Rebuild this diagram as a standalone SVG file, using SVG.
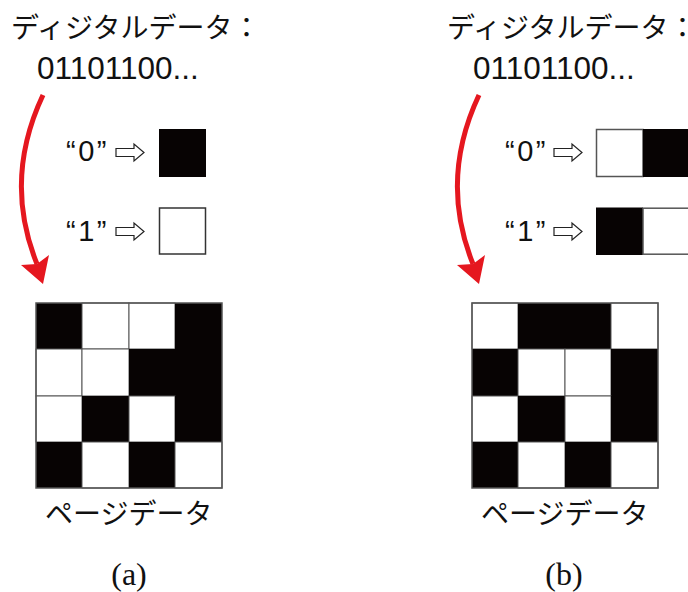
<svg xmlns="http://www.w3.org/2000/svg" width="688" height="592" viewBox="0 0 688 592">
  <style>
    .jp { font-family: "Noto Sans CJK JP", "Noto Sans", sans-serif; font-size: 28px; fill: #111; }
    .num { font-family: "Liberation Sans", Arial, sans-serif; font-size: 31.5px; fill: #111; }
    .lg { font-family: "Liberation Sans", Arial, sans-serif; font-size: 29px; fill: #111; letter-spacing: 2.5px; }
    .cap { font-family: "Liberation Serif", "Times New Roman", serif; font-size: 32px; fill: #111; text-anchor: middle; }
    .b { fill: #070303; stroke: none; }
    .w { fill: #ffffff; stroke: #555; stroke-width: 1; }
    .frame { fill: none; stroke: #555; stroke-width: 1.5; }
    .open { fill: #fff; stroke: #222; stroke-width: 1.2; stroke-linejoin: miter; }
    .red { fill: none; stroke: #e5171f; stroke-width: 5; }
    .redhead { fill: #e5171f; }
  </style>
  <defs>
    <polygon id="openArrow" class="open" points="0,-4 18,-4 18,-8.5 28,0 18,8.5 18,4 0,4"/>
  </defs>
  <rect width="688" height="592" fill="#fff"/>

  <!-- Panel (a) -->
  <g id="a-title">
    <text class="jp" x="11" y="38">ディジタルデータ：</text>
    <text class="num" x="37" y="79">01101100...</text>
  </g>
  <g id="a-legend0">
    <text class="lg" x="66" y="161">“0”</text>
    <use href="#openArrow" x="116" y="152.5"/>
    <rect class="b" x="159" y="129" width="47" height="48"/>
  </g>
  <g id="a-legend1">
    <text class="lg" x="66" y="241">“1”</text>
    <use href="#openArrow" x="116" y="231.5"/>
    <rect x="159.5" y="208" width="46" height="46" fill="#fff" stroke="#333" stroke-width="1.5"/>
  </g>
  <g id="a-grid">
    <rect class="b" x="36" y="303" width="46" height="46"/>
    <rect class="w" x="82" y="303" width="47" height="46"/>
    <rect class="w" x="129" y="303" width="46" height="46"/>
    <rect class="b" x="175" y="303" width="47" height="46"/>
    <rect class="w" x="36" y="349" width="46" height="47"/>
    <rect class="w" x="82" y="349" width="47" height="47"/>
    <rect class="b" x="129" y="349" width="46" height="47"/>
    <rect class="b" x="175" y="349" width="47" height="47"/>
    <rect class="w" x="36" y="396" width="46" height="46"/>
    <rect class="b" x="82" y="396" width="47" height="46"/>
    <rect class="w" x="129" y="396" width="46" height="46"/>
    <rect class="b" x="175" y="396" width="47" height="46"/>
    <rect class="b" x="36" y="442" width="46" height="46"/>
    <rect class="w" x="82" y="442" width="47" height="46"/>
    <rect class="b" x="129" y="442" width="46" height="46"/>
    <rect class="w" x="175" y="442" width="47" height="46"/>
    <rect class="frame" x="36" y="303" width="186" height="185"/>
  </g>
  <g id="a-label">
    <text class="jp" x="45" y="524">ページデータ</text>
    <text class="cap" x="129" y="585">(a)</text>
  </g>

  <!-- Panel (b) -->
  <g id="b-title">
    <text class="jp" x="447" y="38">ディジタルデータ：</text>
    <text class="num" x="473" y="79">01101100...</text>
  </g>
  <g id="b-legend0">
    <text class="lg" x="505" y="161">“0”</text>
    <use href="#openArrow" x="554" y="152.5"/>
    <rect x="596.5" y="129.5" width="46.5" height="47" fill="#fff" stroke="#555" stroke-width="1.5"/>
    <rect class="b" x="643" y="129" width="46" height="48"/>
  </g>
  <g id="b-legend1">
    <text class="lg" x="505" y="241">“1”</text>
    <use href="#openArrow" x="554" y="231.5"/>
    <rect class="b" x="596" y="207.5" width="47" height="47.5"/>
    <rect x="643" y="208.2" width="46" height="46" fill="#fff" stroke="#555" stroke-width="1.5"/>
  </g>
  <g id="b-grid">
    <rect class="w" x="472" y="303" width="46" height="46"/>
    <rect class="b" x="518" y="303" width="47" height="46"/>
    <rect class="b" x="565" y="303" width="46" height="46"/>
    <rect class="w" x="611" y="303" width="47" height="46"/>
    <rect class="b" x="472" y="349" width="46" height="47"/>
    <rect class="w" x="518" y="349" width="47" height="47"/>
    <rect class="w" x="565" y="349" width="46" height="47"/>
    <rect class="b" x="611" y="349" width="47" height="47"/>
    <rect class="w" x="472" y="396" width="46" height="46"/>
    <rect class="b" x="518" y="396" width="47" height="46"/>
    <rect class="w" x="565" y="396" width="46" height="46"/>
    <rect class="b" x="611" y="396" width="47" height="46"/>
    <rect class="b" x="472" y="442" width="46" height="46"/>
    <rect class="w" x="518" y="442" width="47" height="46"/>
    <rect class="b" x="565" y="442" width="46" height="46"/>
    <rect class="w" x="611" y="442" width="47" height="46"/>
    <rect class="frame" x="472" y="303" width="186" height="185"/>
  </g>
  <g id="b-label">
    <text class="jp" x="481" y="524">ページデータ</text>
    <text class="cap" x="564" y="585">(b)</text>
  </g>

  <!-- Connectors -->
  <g id="connectors">
    <path class="red" d="M43,95 Q3,180 37,264"/>
    <polygon class="redhead" points="43,284 21,265 37,264 49,255"/>
    <path class="red" d="M479,95 Q439,180 473,264"/>
    <polygon class="redhead" points="479,284 457,265 473,264 485,255"/>
  </g>
</svg>
